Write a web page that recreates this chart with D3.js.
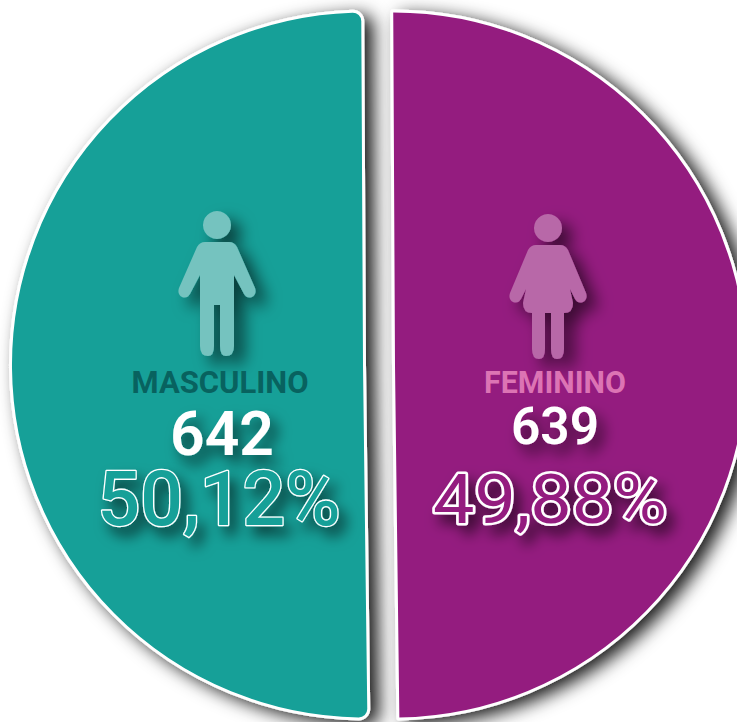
<!DOCTYPE html>
<html><head><meta charset="utf-8">
<script src="https://cdn.jsdelivr.net/npm/d3@7"></script>
<style>html,body{margin:0;padding:0;background:#fff;overflow:hidden}svg{display:block}text{font-family:Roboto,sans-serif;text-anchor:middle}</style>
</head><body><svg id="c" width="737" height="722"></svg>
<script>
const categories = ["MASCULINO","FEMININO"];
const counts = [642,639];
const percentLabels = ["50,12%","49,88%"];

const sliceColors = ["#12a098","#941b7f"];
const iconColors = ["#75c3bf","#b868a8"];
const nameColors = ["#08625f","#dc74b4"];

const svg = d3.select("#c");
const defs = svg.append("defs");
function shadow(id,dx,dy,b,o){
  const f = defs.append("filter").attr("id",id).attr("x","-30%").attr("y","-30%").attr("width","170%").attr("height","170%");
  f.append("feDropShadow").attr("dx",dx).attr("dy",dy).attr("stdDeviation",b).attr("flood-color","#000").attr("flood-opacity",o);
}
shadow("sSlice",9,5,9,0.9);
shadow("sIcon",10,9,8,0.6);
shadow("sText",7,9,7,0.6);

// Pie runs clockwise from just off the top; FEMININO fills the right half, MASCULINO the left.
const tilt = -0.005;
const slices = d3.pie().sort(null).startAngle(tilt).endAngle(2*Math.PI+tilt)([counts[1],counts[0]]);
const sliceOf = [slices[1],slices[0]];
const R = 354;
const centers = [[364.5,365],[393.5,365]];
const corner = [10,1];
const arc = d3.arc().innerRadius(0).outerRadius(R);

[0,1].forEach(i=>{
  svg.append("path")
    .attr("transform",`translate(${centers[i]})`)
    .attr("d",arc.cornerRadius(corner[i])(sliceOf[i]))
    .attr("fill",sliceColors[i])
    .attr("stroke","#fff").attr("stroke-width",3)
    .attr("filter","url(#sSlice)");
});

const head = "M0 -89 a14 14 0 1 1 -0.01 0 Z ";
const man = head+"M-12 -58 H12 Q17 -58 20 -53 L38 -12 Q40 -6 35 -3 Q30 -1 27 -6 L17 -25 V46 Q17 56 9 56 Q3 56 3 46 V5 H-3 V46 Q-3 56 -9 56 Q-17 56 -17 46 V-25 L-27 -6 Q-30 -1 -35 -3 Q-40 -6 -38 -12 L-20 -53 Q-17 -58 -12 -58 Z";
const woman = head+"M-12 -58 H12 Q17 -58 20 -53 L38 -10 Q40 -4 35 -1 Q30 1 27 -4 L22 -14 L25 0 Q25 10 16 10 V46 Q16 56 9 56 Q3 56 3 46 V10 H-3 V46 Q-3 56 -9 56 Q-16 56 -16 46 V10 Q-25 10 -25 0 L-22 -14 L-27 -4 Q-30 1 -35 -1 Q-40 -4 -38 -10 L-20 -53 Q-17 -58 -12 -58 Z";
const iconPaths = [man,woman];
const iconPos = [[217,300],[548,303]];
iconPaths.forEach((d,i)=>{
  svg.append("path").attr("d",d).attr("transform",`translate(${iconPos[i]})`)
    .attr("fill",iconColors[i]).attr("filter","url(#sIcon)");
});

const nameLayout = [[220,393,31,700,177],[555,393,31,700,142]];
const countLayout = [[222,455,62,600,104],[555,444,52,600,88]];
const pctLayout = [[219,524.5,76,500,243],[550,522.5,69,400,234]];
function place(sel,[x,y,s,w,len]){
  return sel.attr("x",x).attr("y",y).attr("font-size",s).attr("font-weight",w)
    .attr("textLength",len).attr("lengthAdjust","spacingAndGlyphs");
}
categories.forEach((c,i)=>{
  place(svg.append("text"),nameLayout[i]).attr("fill",nameColors[i]).text(c);
});
counts.forEach((c,i)=>{
  place(svg.append("text"),countLayout[i]).attr("fill","#fff").attr("filter","url(#sText)").text(c);
});
percentLabels.forEach((c,i)=>{
  place(svg.append("text"),pctLayout[i])
    .attr("fill",sliceColors[i]).attr("stroke","#fff").attr("stroke-width",i?5:2.6)
    .attr("paint-order","stroke").attr("stroke-linejoin","round")
    .attr("filter","url(#sText)").text(c);
});
</script></body></html>
